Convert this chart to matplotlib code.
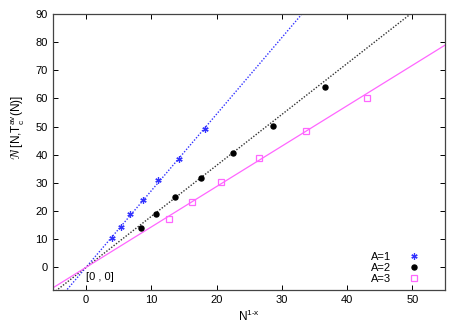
import numpy as np, matplotlib
matplotlib.use("Agg")
import matplotlib.pyplot as plt

plt.rcParams["font.family"] = ["Liberation Sans", "DejaVu Sans"]
plt.rcParams["mathtext.fontset"] = "custom"
plt.rcParams["mathtext.rm"] = "Liberation Sans"

# data
x1 = [4.0, 5.3, 6.8, 8.7, 11.1, 14.2, 18.3]
y1 = [10.3, 14.2, 18.9, 23.8, 31.0, 38.4, 49.2]
x2 = [8.4, 10.8, 13.7, 17.6, 22.5, 28.6, 36.6]
y2 = [13.9, 18.9, 24.9, 31.6, 40.8, 50.3, 64.2]
x3 = [12.7, 16.2, 20.7, 26.5, 33.7, 43.1]
y3 = [17.3, 23.2, 30.4, 38.7, 48.4, 60.1]
# fitted lines (slope, intercept)
fit1 = (2.72, 0.0)
fit2 = (1.81, 0.0)
fit3 = (1.435, 0.0)
labels = ["A=1", "A=2", "A=3"]

c1, c2, c3 = "#3333ff", "#000000", "#ff66ff"

fig = plt.figure(figsize=(4.64, 3.25), dpi=100)
ax = fig.add_axes([0.115, 0.108, 0.844, 0.849])
xx = np.array([-5, 55])
ax.plot(xx, fit1[0]*xx+fit1[1], ls=(0, (1, 1.2)), color=c1, lw=1.0)
ax.plot(xx, fit2[0]*xx+fit2[1], ls=(0, (1, 1.2)), color="#333333", lw=1.0)
ax.plot(xx, fit3[0]*xx+fit3[1], "-", color=c3, lw=0.9)
h1, = ax.plot(x1, y1, ls="none", marker=(6, 2, 0), ms=4.5, mew=0.9, color=c1)
h2, = ax.plot(x2, y2, ls="none", marker="o", ms=3.6, color=c2)
h3, = ax.plot(x3, y3, ls="none", marker="s", ms=4.5, mfc="none", mec=c3, mew=0.9)

ax.text(0, -3.4, "[0 , 0]", fontsize=8, ha="left", va="center")

ax.set_xlim(-5, 55); ax.set_ylim(-8, 90)
ax.set_xticks(range(0, 51, 10)); ax.set_yticks(range(0, 91, 10))
ax.tick_params(direction="in", top=True, right=True, length=3.5, width=0.7, labelsize=8, pad=4)
for s in ax.spines.values():
    s.set_linewidth(0.9); s.set_color("#444444")

ax.set_xlabel(r"N$^{\mathrm{1\text{-}x}}$", fontsize=8.5)
ax.xaxis.set_label_coords(0.5, -0.07)
ax.set_ylabel(r"$\mathcal{N}\,$[N,T$_\mathrm{c}^\mathrm{av}$(N)]", fontsize=8.5)
ax.yaxis.set_label_coords(-0.068, 0.59)

leg = ax.legend([h1, h2, h3], labels, loc="lower right", bbox_to_anchor=(0.953, 0.005),
                frameon=False, fontsize=8, markerfirst=False, handlelength=1.5,
                handletextpad=1.3, labelspacing=0.1, borderaxespad=0)
for t in leg.get_texts():
    t.set_ha("right")

fig.savefig("out.png", dpi=100, facecolor="white")
